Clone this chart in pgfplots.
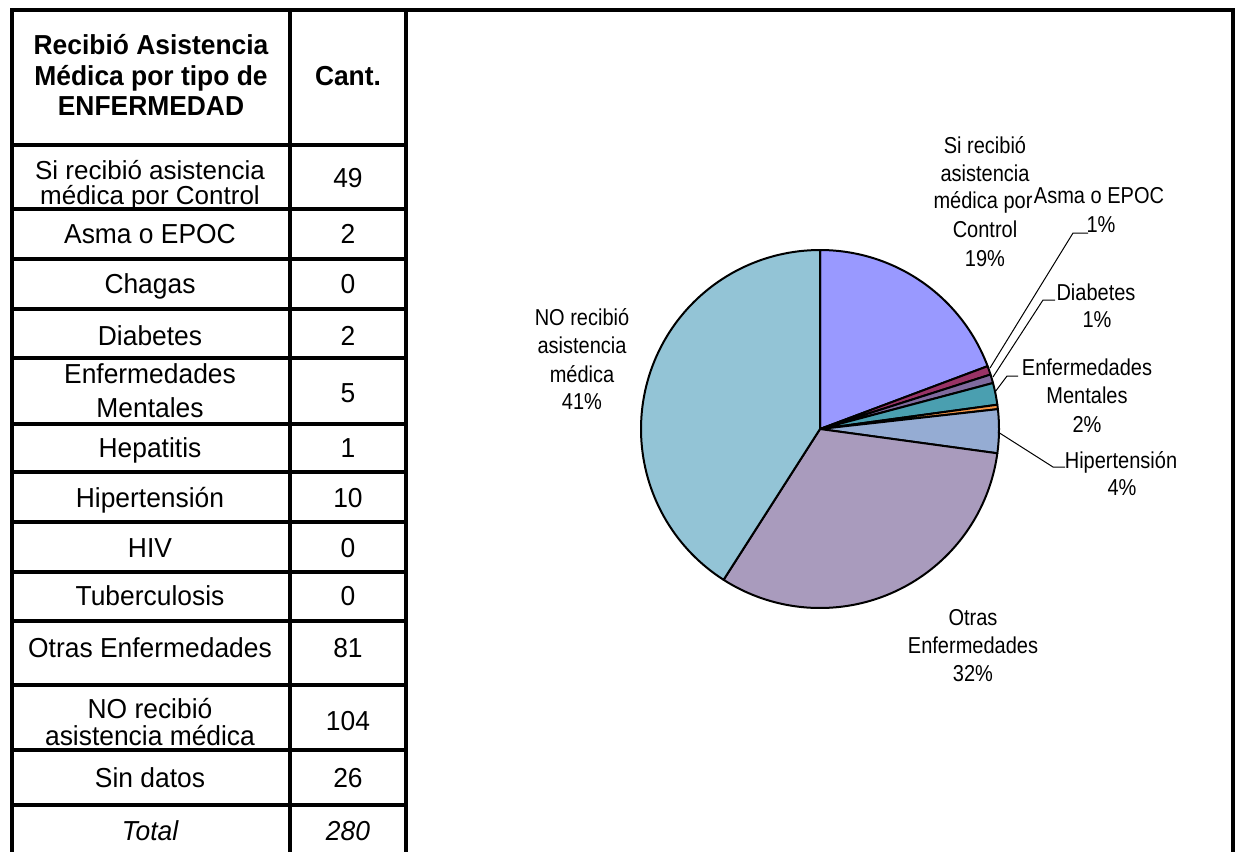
\documentclass[border=0pt]{standalone}
\usepackage{fontspec}
\setmainfont{Liberation Sans}
\usepackage{graphicx}
\usepackage{pgfplots}
\pgfplotsset{compat=1.18}
\definecolor{cSi}{HTML}{9999FF}
\definecolor{cAsma}{HTML}{993366}
\definecolor{cDiab}{HTML}{7F6A9E}
\definecolor{cEnf}{HTML}{4A9FB0}
\definecolor{cHep}{HTML}{F79646}
\definecolor{cHip}{HTML}{95ACD3}
\definecolor{cOtr}{HTML}{A99BBD}
\definecolor{cNO}{HTML}{93C4D6}
% counts (Sin datos excluded from the pie)
\def\nTot{254}
\newcommand\slice[3]{%
  \addplot[fill=#3, draw=black, line width=1pt, line join=round,
    domain={360*(#1)/\nTot}:{360*(#2)/\nTot}, samples=90, variable=\t]
    ({820+179*sin(\t)},{429-179*cos(\t)}) -- (axis cs:820,429) -- cycle;}
\newcommand\tb[3][]{\node[anchor=base, font=\fontsize{13.2}{15}\selectfont#1] at (axis cs:#2) {\scalebox{1}[1.04]{#3}};}
\newcommand\pl[2]{\node[anchor=base, font=\fontsize{10}{12}\selectfont] at (axis cs:#1) {\scalebox{1}[1.15]{#2}};}
\begin{document}
\begin{tikzpicture}
\path[use as bounding box] (0,0) rectangle (619pt,426pt);
\begin{axis}[at={(0,0)}, anchor=south west, scale only axis,
  width=619pt, height=426pt, xmin=0, xmax=1238, ymin=0, ymax=852,
  y dir=reverse, hide axis, clip=false]
% pie slices, clockwise from 12 o'clock
\slice{0}{49}{cSi}
\slice{49}{49+2}{cAsma}
\slice{51}{51+2}{cDiab}
\slice{53}{53+5}{cEnf}
\slice{58}{58+1}{cHep}
\slice{59}{59+10}{cHip}
\slice{69}{69+81}{cOtr}
\slice{150}{150+104}{cNO}
% leader lines
\addplot[black, line width=0.5pt] coordinates {(990,368) (1073,233) (1088,233)};
\addplot[black, line width=0.5pt] coordinates {(993,377) (1043,300) (1055,300)};
\addplot[black, line width=0.5pt] coordinates {(995,392) (1007,376) (1018,376)};
\addplot[black, line width=0.5pt] coordinates {(998,432) (1053,467) (1065,467)};
% pie labels
\pl{985,153}{Si recibió}
\pl{985,181}{asistencia}
\pl{983,208}{médica por}
\pl{985,237}{Control}
\pl{985,266}{19\%}
\pl{1099,203}{Asma o EPOC}
\pl{1101,232}{1\%}
\pl{1096,300}{Diabetes}
\pl{1097,327}{1\%}
\pl{1087,375}{Enfermedades}
\pl{1087,403}{Mentales}
\pl{1087,432}{2\%}
\pl{1121,468}{Hipertensión}
\pl{1122,495}{4\%}
\pl{582,325}{NO recibió}
\pl{582,353}{asistencia}
\pl{582,382}{médica}
\pl{582,409}{41\%}
\pl{973,625}{Otras}
\pl{973,653}{Enfermedades}
\pl{973,681}{32\%}
% table grid
\pgfplotsinvokeforeach{145,209,259,309,358,424,472,522,572,621,685,750,805}{
  \draw[line width=2pt] (axis cs:12,#1) -- (axis cs:406,#1);}
\draw[line width=2pt] (axis cs:290,10) -- (axis cs:290,852);
\draw[line width=2.25pt] (axis cs:406,10) -- (axis cs:406,852);
\draw[line width=2.25pt, line cap=rect] (axis cs:12,852) -- (axis cs:12,10) -- (axis cs:1233,10) -- (axis cs:1233,852);
% table text
\tb[\bfseries]{151,54}{Recibió Asistencia}
\tb[\bfseries]{151,85}{Médica por tipo de}
\tb[\bfseries]{151,115}{ENFERMEDAD}
\tb[\bfseries]{348,85}{Cant.}
\node[anchor=base, font=\fontsize{13}{15}\selectfont] at (axis cs:150,179) {Si recibió asistencia};
\node[anchor=base, font=\fontsize{13}{15}\selectfont] at (axis cs:150,204) {médica por Control};
\tb{348,187}{49}
\tb{150,243}{Asma o EPOC}
\tb{348,243}{2}
\tb{150,293}{Chagas}
\tb{348,293}{0}
\tb{150,345}{Diabetes}
\tb{348,345}{2}
\tb{150,383}{Enfermedades}
\tb{150,417}{Mentales}
\tb{348,402}{5}
\tb{150,457}{Hepatitis}
\tb{348,457}{1}
\tb{150,507}{Hipertensión}
\tb{348,507}{10}
\tb{150,557}{HIV}
\tb{348,557}{0}
\tb{150,605}{Tuberculosis}
\tb{348,605}{0}
\tb{150,657}{Otras Enfermedades}
\tb{348,657}{81}
\tb{150,718}{NO recibió}
\tb{150,745}{asistencia médica}
\tb{348,730}{104}
\tb{150,787}{Sin datos}
\tb{348,787}{26}
\tb[\itshape]{150,840}{Total}
\tb[\itshape]{348,840}{280}
\end{axis}
\end{tikzpicture}
\end{document}
